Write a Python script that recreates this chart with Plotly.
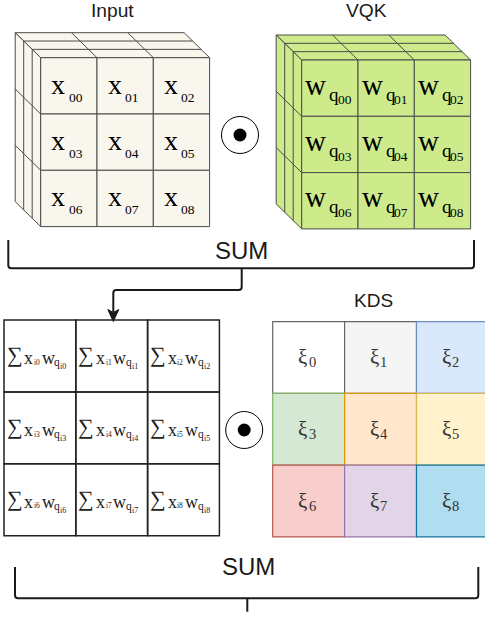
import plotly.graph_objects as go

# ---------------- data ----------------
input_idx = ["00", "01", "02", "03", "04", "05", "06", "07", "08"]
vqk_idx = ["00", "01", "02", "03", "04", "05", "06", "07", "08"]
sum_idx = ["0", "1", "2", "3", "4", "5", "6", "7", "8"]
kds_idx = ["0", "1", "2", "3", "4", "5", "6", "7", "8"]
kds_fill = ["#ffffff", "#f5f5f5", "#dae8fc", "#d5e8d4", "#ffe6cc",
            "#fff2cc", "#f8cecc", "#e1d5e7", "#b1ddf0"]
kds_line = ["#666666", "#666666", "#6c8ebf", "#82b366", "#d79b00",
            "#d6b656", "#b85450", "#9673a6", "#10739e"]
titles = ["Input", "VQK", "KDS"]
sum_label = "SUM"

# ---------------- style ----------------
W, H = 485, 617
SERIF = "Liberation Serif, Times New Roman, serif"
SANS = "Liberation Sans, Arial, Helvetica, sans-serif"
CUBE_LINE = "#4a4a4a"
INPUT_FILL = "#f9f7ed"
VQK_FILL = "#cdeb8b"
INK = "#1a1a1a"

shapes = []
ann = []


def seg(x0, y0, x1, y1, color=CUBE_LINE, width=1):
    shapes.append(dict(type="line", x0=x0, y0=y0, x1=x1, y1=y1, xref="x", yref="y",
                       line=dict(color=color, width=width)))


def rect(x0, y0, x1, y1, fill, color, width=1):
    shapes.append(dict(type="rect", x0=x0, y0=y0, x1=x1, y1=y1, xref="x", yref="y",
                       fillcolor=fill, line=dict(color=color, width=width)))


def poly(pts, fill, color, width=1, close=True):
    p = "M " + " L ".join(f"{x:.2f},{y:.2f}" for x, y in pts) + (" Z" if close else "")
    shapes.append(dict(type="path", path=p, xref="x", yref="y", fillcolor=fill,
                       line=dict(color=color, width=width)))


def rawpath(p, color=INK, width=2, fill=None):
    d = dict(type="path", path=p, xref="x", yref="y", line=dict(color=color, width=width))
    if fill:
        d["fillcolor"] = fill
    shapes.append(d)


def txt(x, base, s, size, family=SERIF, color="#000000", anchor="left"):
    d = 0.216 if family == SERIF else 0.212
    ann.append(dict(x=x, y=base + d * size, text=s, xanchor=anchor, yanchor="bottom",
                    showarrow=False, borderpad=0, xref="x", yref="y",
                    font=dict(family=family, size=size, color=color)))


def cube(fx, fy, s, dx, dy, fill):
    n = 3
    poly([(fx, fy), (fx + n * s, fy), (fx + n * s + dx, fy + dy), (fx + dx, fy + dy)], fill, CUBE_LINE)
    poly([(fx, fy), (fx + dx, fy + dy), (fx + dx, fy + n * s + dy), (fx, fy + n * s)], fill, CUBE_LINE)
    for k in (1, 2):
        ox, oy = fx + k * dx / 3, fy + k * dy / 3
        seg(ox, oy, ox + n * s, oy)
        seg(ox, oy, ox, oy + n * s)
    for j in (1, 2):
        seg(fx + j * s, fy, fx + j * s + dx, fy + dy)
        seg(fx, fy + j * s, fx + dx, fy + j * s + dy)
    for r in range(n):
        for c in range(n):
            rect(fx + c * s, fy + r * s, fx + (c + 1) * s, fy + (r + 1) * s, fill, CUBE_LINE)


# ---------------- cubes ----------------
S = 56.3
DX, DY = -25.5, -25.0
IN_X, IN_Y = 40.7, 57.7
VQ_X, VQ_Y = 301.7, 60.0
cube(IN_X, IN_Y, S, DX, DY, INPUT_FILL)
cube(VQ_X, VQ_Y, S, DX, DY, VQK_FILL)

for i, lab in enumerate(input_idx):
    r, c = divmod(i, 3)
    ox, oy = IN_X + c * S, IN_Y + r * S
    txt(ox + 9.5, oy + 36.8, "x", 28)
    txt(ox + 27.0, oy + 45.0, lab, 13.5)

for i, lab in enumerate(vqk_idx):
    r, c = divmod(i, 3)
    ox, oy = VQ_X + c * S, VQ_Y + r * S
    txt(ox + 2.5, oy + 35.5, "w", 29)
    txt(ox + 26.5, oy + 41.5, "q", 19)
    txt(ox + 35.0, oy + 45.5, lab, 13.5)

# ---------------- odot operators ----------------
def odot(cx, cy, R=18.5, r=6.5):
    shapes.append(dict(type="circle", x0=cx - R, y0=cy - R, x1=cx + R, y1=cy + R, xref="x", yref="y",
                       fillcolor="#ffffff", line=dict(color="#000000", width=1)))
    shapes.append(dict(type="circle", x0=cx - r, y0=cy - r, x1=cx + r, y1=cy + r, xref="x", yref="y",
                       fillcolor="#000000", line=dict(color="#000000", width=0)))


odot(240.0, 135.0)
odot(244.2, 430.0)

# ---------------- titles ----------------
txt(112.2, 17.6, titles[0], 19.2, SANS, INK, "center")
txt(366.2, 17.6, titles[1], 19.2, SANS, INK, "center")
txt(373.3, 308.3, titles[2], 19, SANS, INK, "center")

# ---------------- bracket 1 + arrow ----------------
txt(241.5, 260.0, sum_label, 24, SANS, INK, "center")
rawpath("M 8.3,240 L 8.3,265.3 Q 8.3,268.3 11.3,268.3 L 471,268.3 Q 474,268.3 474,265.3 L 474,240")
rawpath("M 241.7,268.3 L 241.7,287 Q 241.7,290 238.7,290 L 116.3,290 Q 113.3,290 113.3,293 L 113.3,312")
rawpath("M 113.3,321.5 L 107.8,309.5 L 113.3,312.5 L 118.8,309.5 Z", INK, 1, INK)

# ---------------- sum grid ----------------
SX, SY, SW, SH = 4.0, 320.0, 71.8, 71.9
for i, k in enumerate(sum_idx):
    r, c = divmod(i, 3)
    ox, oy = SX + c * SW, SY + r * SH
    rect(ox, oy, ox + SW, oy + SH, "rgba(0,0,0,0)", "#222222", 1.5)
for i, k in enumerate(sum_idx):
    r, c = divmod(i, 3)
    ox, oy = SX + c * SW, SY + r * SH
    txt(ox + 1.5, oy + 43.5, "\u2211", 22, SERIF, "#222222")
    txt(ox + 19.0, oy + 45.0, "x", 18, SERIF, "#222222")
    txt(ox + 28.8, oy + 46.0, "i" + k, 7.5, SERIF, "#222222")
    txt(ox + 36.5, oy + 45.0, "w", 18, SERIF, "#222222")
    txt(ox + 49.0, oy + 47.5, "q", 11.5, SERIF, "#222222")
    txt(ox + 55.0, oy + 50.0, "i" + k, 8, SERIF, "#222222")

# ---------------- KDS grid ----------------
KX, KY, KW, KH = 272.7, 321.7, 71.9, 71.7
for i, k in enumerate(kds_idx):
    r, c = divmod(i, 3)
    ox, oy = KX + c * KW, KY + r * KH
    rect(ox, oy, ox + KW, oy + KH, kds_fill[i], kds_line[i], 1.2)
for i, k in enumerate(kds_idx):
    r, c = divmod(i, 3)
    ox, oy = KX + c * KW, KY + r * KH
    txt(ox + 24.0, oy + 44.0, "\u03be", 21, SERIF, "#333333")
    txt(ox + 34.8, oy + 46.6, k, 14.5, SERIF, "#333333")

# ---------------- bracket 2 ----------------
txt(248.3, 575.7, sum_label, 24, SANS, INK, "center")
rawpath("M 15,567 L 15,595.3 Q 15,598.3 18,598.3 L 475.3,598.3 Q 478.3,598.3 478.3,595.3 L 478.3,567")
rawpath("M 247.3,598.3 L 247.3,611.7")

fig = go.Figure()
fig.add_trace(go.Scatter(x=[None], y=[None], mode="markers", hoverinfo="skip", showlegend=False))
fig.update_layout(
    width=W, height=H,
    margin=dict(l=0, r=0, t=0, b=0),
    paper_bgcolor="#ffffff", plot_bgcolor="#ffffff",
    showlegend=False,
    xaxis=dict(range=[0, W], visible=False, fixedrange=True),
    yaxis=dict(range=[H, 0], visible=False, fixedrange=True),
    shapes=shapes,
    annotations=ann,
)
fig.write_html("out.html", config={"displayModeBar": False, "staticPlot": True},
               post_script="document.body.style.margin='0px';document.body.style.overflow='hidden';")
